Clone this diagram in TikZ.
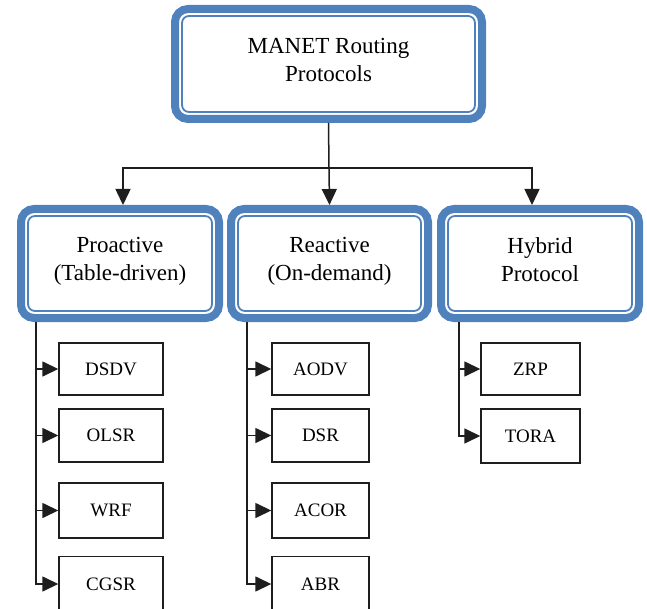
\documentclass[tikz,border=0pt]{standalone}
\usepackage{fontspec}
\setmainfont{Liberation Serif}
\usetikzlibrary{arrows.meta}
\definecolor{wblue}{RGB}{79,129,189}
\definecolor{ink}{RGB}{30,30,30}
\tikzset{
  bigbox/.style={draw=wblue, line width=8pt, rounded corners=13pt, fill=white,
    align=center, inner sep=0pt, text=black,
    font=\fontsize{23}{28}\selectfont},
  inner line/.style={draw=wblue, line width=1.8pt, rounded corners=7pt},
  leaf/.style={draw=ink, line width=1.4pt, fill=white, inner sep=0pt,
    font=\fontsize{19}{22}\selectfont},
  conn/.style={draw=ink, line width=1.5pt},
  arr/.style={conn, -{Triangle[length=16pt,width=15pt]}}
}
\begin{document}
\begin{tikzpicture}[x=1pt,y=-1pt]
\clip (0,0) rectangle (647,609);
\fill[white] (0,0) rectangle (647,609);
% main boxes
\node[bigbox, minimum width=307pt, minimum height=110pt] (top) at (328.5,64) {MANET Routing\\Protocols\strut};
\node[bigbox, minimum width=198pt, minimum height=109pt] (pro) at (120,263.5) {Proactive\\(Table-driven)\strut};
\node[bigbox, minimum width=197pt, minimum height=109pt] (rea) at (329.5,263.5) {Reactive\\(On-demand)\strut};
\node[bigbox, minimum width=198pt, minimum height=109pt] (hyb) at (540,263.5) {Hybrid\\Protocol\strut};
\foreach \n in {top,pro,rea,hyb}{
  \draw[inner line] ([shift={(11pt,-11pt)}]\n.north west) rectangle ([shift={(-11pt,11pt)}]\n.south east);
}
% leaves
\node[leaf, minimum width=104pt, minimum height=52pt] (dsdv) at (111,369) {DSDV};
\node[leaf, minimum width=104pt, minimum height=53pt] (olsr) at (111,435.5) {OLSR};
\node[leaf, minimum width=104pt, minimum height=55pt] (wrf)  at (111,510.5) {WRF};
\node[leaf, minimum width=104pt, minimum height=55pt] (cgsr) at (111,584) {CGSR};
\node[leaf, minimum width=97pt, minimum height=52pt] (aodv) at (320.5,369) {AODV};
\node[leaf, minimum width=97pt, minimum height=53pt] (dsr)  at (320.5,435.5) {DSR};
\node[leaf, minimum width=97pt, minimum height=55pt] (acor) at (320.5,510.5) {ACOR};
\node[leaf, minimum width=97pt, minimum height=55pt] (abr) at (320.5,584) {ABR};
\node[leaf, minimum width=99pt, minimum height=52pt] (zrp)  at (530.5,369) {ZRP};
\node[leaf, minimum width=99pt, minimum height=54pt] (tora) at (530.5,436) {TORA};
% top-level connectors
\coordinate (j) at (329,168);
\draw[conn] (top.south) -- (j);
\draw[arr] (j) -| ([xshift=3pt]pro.north);
\draw[arr] (j) -- (rea.north);
\draw[arr] (j) -| ([xshift=-8pt]hyb.north);
% leaf connectors
\foreach \l in {dsdv,olsr,wrf,cgsr}{\draw[arr] ([xshift=19pt]pro.south west) |- (\l.west);}
\foreach \l in {aodv,dsr,acor,abr}{\draw[arr] ([xshift=20pt]rea.south west) |- (\l.west);}
\foreach \l in {zrp,tora}{\draw[arr] ([xshift=22pt]hyb.south west) |- (\l.west);}
\end{tikzpicture}
\end{document}
